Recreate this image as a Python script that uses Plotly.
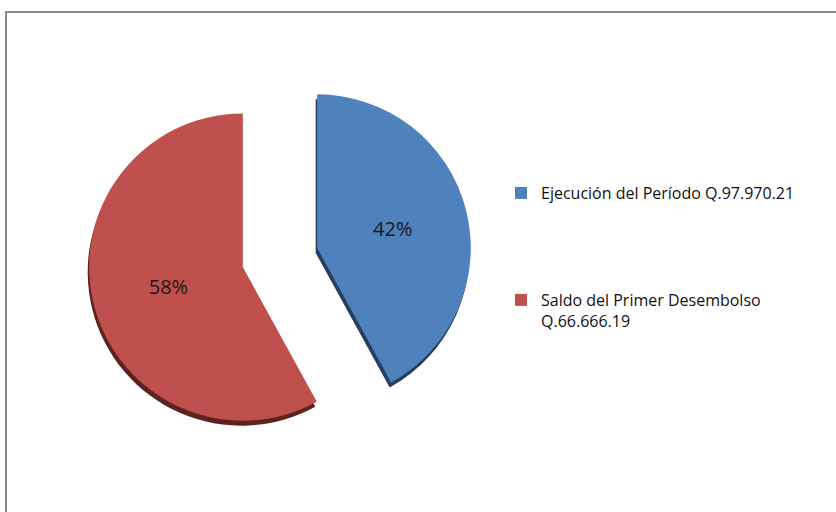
import plotly.graph_objects as go

labels = ["Ejecución del Período Q.97.970.21<br> <br> <br> <br> ",
          "Saldo del Primer Desembolso<br>Q.66.666.19"]
values = [42, 58]
colors = ["#4F81BD", "#C0504D"]
shadow_colors = ["#263F5E", "#5C2321"]

W, H = 836, 512
cx, cy, half = 280, 257.5, 192  # pixel geometry of the pie box
dom_x = [(cx - half) / W, (cx + half) / W]
dom_y = [(H - cy - half) / H, (H - cy + half) / H]
shift = 5 / H

fig = go.Figure()
fig.add_trace(go.Pie(
    labels=labels, values=values, sort=False, direction="clockwise", rotation=0,
    pull=[0.25, 0.25], marker=dict(colors=shadow_colors, line=dict(width=0)),
    textinfo="none", hoverinfo="skip", showlegend=False,
    domain=dict(x=[dom_x[0] - 1.5 / W, dom_x[1] - 1.5 / W], y=[dom_y[0] - shift, dom_y[1] - shift]),
))
fig.add_trace(go.Pie(
    labels=labels, values=values, sort=False, direction="clockwise", rotation=0,
    pull=[0.25, 0.25], marker=dict(colors=colors, line=dict(width=0)),
    textinfo="percent", textposition="inside", insidetextorientation="horizontal",
    textfont=dict(family="Open Sans", size=20, color="#1a1a1a"),
    domain=dict(x=dom_x, y=dom_y),
))

fig.update_layout(
    width=W, height=H,
    margin=dict(l=0, r=0, t=0, b=0),
    paper_bgcolor="white", plot_bgcolor="white",
    legend=dict(x=501 / W, y=(H - 176) / H, xanchor="left", yanchor="top",
                valign="top", font=dict(family="Open Sans", size=16, color="#111111"),
                bgcolor="rgba(0,0,0,0)"),
    shapes=[dict(type="rect", xref="paper", yref="paper",
                 x0=6 / W, x1=1.05, y0=-0.05, y1=(H - 12) / H,
                 line=dict(color="#8a8a8a", width=2), layer="below")],
)

fig.write_html("out.html", config={"displayModeBar": False},
               post_script="document.body.style.margin='0';")
